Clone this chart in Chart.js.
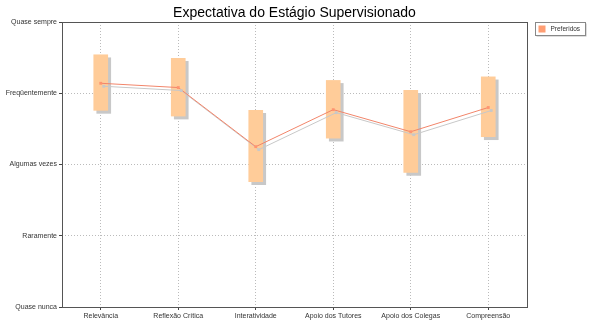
<!DOCTYPE html>
<html>
<head>
<meta charset="utf-8">
<script src="https://cdn.jsdelivr.net/npm/chart.js@4/dist/chart.umd.min.js"></script>
<style>
  body { margin: 0; background: #fff; }
  #wrap { width: 589px; height: 327px; }
</style>
</head>
<body>
<div id="wrap"><canvas id="chart"></canvas></div>
<script>
const categories = ["Relevância", "Reflexão Crítica", "Interatividade", "Apoio dos Tutores", "Apoio dos Colegas", "Compreensão"];
const levelLabels = ["Quase nunca", "Raramente", "Algumas vezes", "Freqüentemente", "Quase sempre"];

// range of answers per item (low, high) and the mean
const rangeLow = [2.76, 2.68, 1.76, 2.37, 1.89, 2.39];
const rangeHigh = [3.54, 3.49, 2.76, 3.18, 3.04, 3.23];
const means = [3.14, 3.08, 2.25, 2.77, 2.46, 2.80];

const chartTitle = "Expectativa do Estágio Supervisionado";
const legendLabel = "Preferidos";

const FONT = "'Liberation Sans', Arial, sans-serif";

// grey drop shadow under bars and line
const shadowPlugin = {
  id: "shadow",
  beforeDatasetDraw(chart) {
    const ctx = chart.ctx;
    ctx.save();
    ctx.shadowColor = "#c8c8c8";
    ctx.shadowOffsetX = 3;
    ctx.shadowOffsetY = 3;
    ctx.shadowBlur = 0;
  },
  afterDatasetDraw(chart) {
    chart.ctx.restore();
  }
};

// frame around plot, page-centred title and legend box on the right
const framePlugin = {
  id: "frame",
  afterDraw(chart) {
    const ctx = chart.ctx;
    const a = chart.chartArea;
    ctx.save();
    ctx.strokeStyle = "#555";
    ctx.lineWidth = 1;
    ctx.strokeRect(Math.round(a.left) + 0.5, Math.round(a.top) + 0.5,
      Math.round(a.right - a.left), Math.round(a.bottom - a.top));

    ctx.fillStyle = "#000";
    ctx.font = "14px " + FONT;
    ctx.textAlign = "center";
    ctx.textBaseline = "middle";
    ctx.fillText(chartTitle, chart.width / 2, 13);

    // legend
    const lx = 535.5, ly = 22.5, lw = 50, lh = 13;
    ctx.fillStyle = "#bbb";
    ctx.fillRect(lx + 1, ly + 1, lw, lh);
    ctx.fillStyle = "#fff";
    ctx.fillRect(lx, ly, lw, lh);
    ctx.strokeStyle = "#888";
    ctx.strokeRect(lx, ly, lw, lh);
    ctx.fillStyle = "#ff9e73";
    ctx.fillRect(lx + 3, ly + 3, 7, 7);
    ctx.fillStyle = "#333";
    ctx.font = "6.5px " + FONT;
    ctx.textAlign = "left";
    ctx.fillText(legendLabel, lx + 15, ly + lh / 2 + 0.5);
    ctx.restore();
  }
};

new Chart(document.getElementById("chart"), {
  type: "bar",
  data: {
    labels: categories,
    datasets: [
      {
        type: "line",
        label: "Média",
        data: means,
        borderColor: "#f2856a",
        borderWidth: 1,
        pointStyle: "rect",
        pointRadius: 2,
        pointBackgroundColor: "#ff9470",
        pointBorderWidth: 0,
        tension: 0,
        order: 0
      },
      {
        label: legendLabel,
        data: rangeLow.map((lo, i) => [lo, rangeHigh[i]]),
        backgroundColor: "#ffcc99",
        borderWidth: 0,
        barThickness: 14,
        order: 1
      }
    ]
  },
  options: {
    responsive: true,
    maintainAspectRatio: false,
    animation: false,
    devicePixelRatio: 1,
    layout: { padding: { left: 0, right: 62, top: 22, bottom: 0 } },
    plugins: {
      legend: { display: false },
      tooltip: { enabled: false },
      title: { display: false }
    },
    scales: {
      x: {
        grid: {
          offset: false,
          color: "#bbb",
          tickColor: "#444",
          tickLength: 3,
          drawTicks: true
        },
        border: { display: false, dash: [1, 2] },
        ticks: {
          color: "#333",
          font: { family: FONT, size: 7 },
          padding: 2,
          maxRotation: 0
        },
        afterFit(scale) { scale.height = 20; }
      },
      y: {
        min: 0,
        max: 4,
        grid: {
          color: "#bbb",
          tickColor: "#444",
          tickLength: 3
        },
        border: { display: false, dash: [1, 2] },
        ticks: {
          stepSize: 1,
          color: "#333",
          font: { family: FONT, size: 7 },
          padding: 2,
          callback: (v) => levelLabels[v]
        },
        afterFit(scale) { scale.width = 62; }
      }
    }
  },
  plugins: [shadowPlugin, framePlugin]
});
</script>
</body>
</html>
